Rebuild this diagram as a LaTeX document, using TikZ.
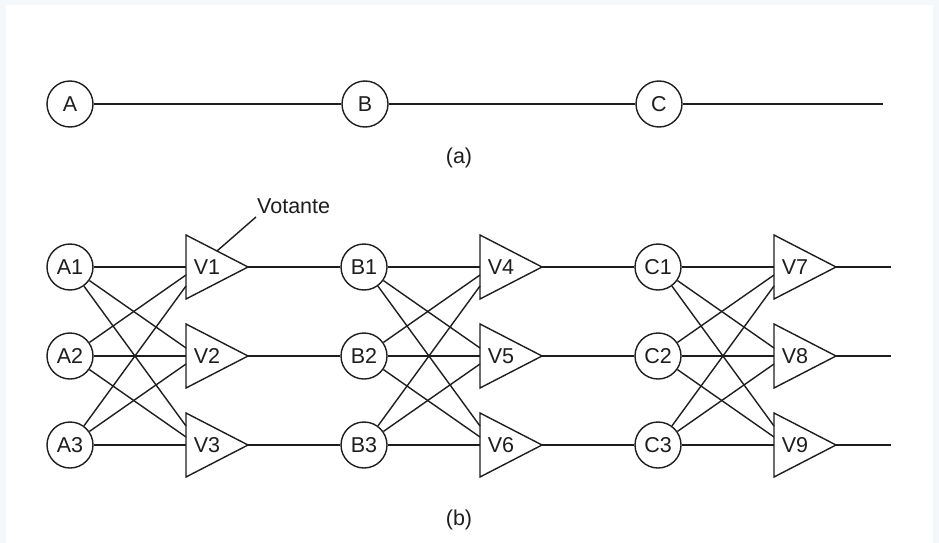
\documentclass[tikz,border=0pt]{standalone}
\usepackage{fontspec}
\setmainfont{Liberation Sans}
\usetikzlibrary{calc}
\definecolor{bgedge}{HTML}{F4F8FB}
\definecolor{ink}{HTML}{1E1E1E}
\begin{document}
\begin{tikzpicture}[x=1pt,y=-1pt,
  every node/.style={font=\fontsize{21.5}{25}\selectfont, text=ink},
  station/.style={circle, draw=ink, line width=1.4pt, minimum size=46pt, inner sep=0pt},
  wire/.style={draw=ink, line width=1.4pt},
  voter/.style={draw=ink, line width=1.4pt, line join=miter}]
\fill[bgedge] (0,0) rectangle (939,543);
\fill[white] (6,5) rectangle (933,543);
\useasboundingbox (0,0) rectangle (939,543);

% (a)
\node[station] (A) at (70,104) {A};
\node[station] (B) at (365,104) {B};
\node[station] (C) at (659,104) {C};
\coordinate (aend) at (883,104);
\draw[wire] (A) -- (B);
\draw[wire] (B) -- (C);
\draw[wire] (C) -- (aend);
\node (la) at (459,158) {(a)};

% (b) stations and voters
\foreach \L [count=\k from 0] in {A,B,C} {
  \foreach \j in {1,2,3} {
    \pgfmathsetmacro\cx{70+294*\k}
    \pgfmathsetmacro\ry{267+89*(\j-1)}
    \pgfmathsetmacro\lx{186+294*\k}
    \pgfmathtruncatemacro\vn{3*\k+\j}
    \node[station] (\L\j) at (\cx,\ry) {\L\j};
    \draw[voter] (\lx,\ry-32) -- (\lx+62,\ry) -- (\lx,\ry+32) -- cycle;
    \node (V\vn) at (\lx+21,\ry) {V\vn};
    \coordinate (V\vn-out) at (\lx+62,\ry);
    \foreach \i in {1,2,3} {
      \pgfmathsetmacro\dd{\i-\j}
      \pgfmathsetmacro\off{6.5*\dd+1.5*\dd*abs(\dd)}
      \coordinate (V\vn-\i) at (\lx,\ry+\off);
    }
  }
}
\foreach \j in {1,2,3} {
  \pgfmathsetmacro\ry{267+89*(\j-1)}
  \coordinate (end\j) at (891,\ry);
}

% crossing connectors
\foreach \L [count=\k from 0] in {A,B,C} {
  \foreach \j in {1,2,3} {
    \pgfmathtruncatemacro\vn{3*\k+\j}
    \foreach \i in {1,2,3} {
      \draw[wire] (\L\i) -- (V\vn-\i);
    }
  }
}

% outputs
\foreach \j in {1,2,3} {
  \pgfmathtruncatemacro\a{\j}
  \pgfmathtruncatemacro\b{3+\j}
  \pgfmathtruncatemacro\c{6+\j}
  \draw[wire] (V\a-out) -- (B\j);
  \draw[wire] (V\b-out) -- (C\j);
  \draw[wire] (V\c-out) -- (end\j);
}

% label
\node[anchor=base west, inner sep=0pt] (vot) at (257,213) {Votante};
\coordinate (vstart) at (256,217);
\coordinate (vtip) at (217,251);
\draw[wire] (vstart) -- (vtip);

\node (lb) at (459,520) {(b)};
\end{tikzpicture}
\end{document}
